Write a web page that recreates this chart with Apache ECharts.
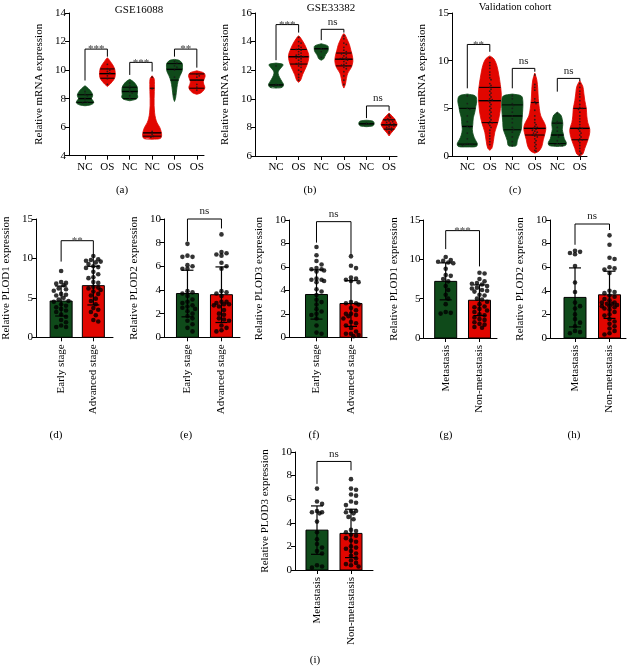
<!DOCTYPE html>
<html><head><meta charset="utf-8">
<script src="https://cdn.jsdelivr.net/npm/echarts@6/dist/echarts.min.js"></script>
<style>html,body{margin:0;padding:0;background:#fff}#c{width:632px;height:667px}</style>
</head><body><div id="c"></div>
<script>
// ================= DATA =================
// Panel (a) GSE16088
const aCategories = ['NC','OS','NC','NC','OS','OS'];
// violin density profiles: [value, relative density (a.u.)]
const aDensity = [
  [[7.5,0],[7.55,5],[7.65,8],[7.75,8.7],[7.9,7.5],[8.0,6.5],[8.15,7.5],[8.3,7.5],[8.5,6],[8.7,3.5],[8.85,1],[8.9,0]],
  [[8.85,0],[9.0,2.5],[9.2,5],[9.4,7],[9.6,7.8],[9.85,7.8],[10.1,7.2],[10.4,5],[10.6,3],[10.8,1],[10.85,0]],
  [[7.85,0],[7.95,6],[8.1,8],[8.3,7.5],[8.5,7.8],[8.8,7.5],[9.0,6],[9.2,3.5],[9.35,0]],
  [[5.15,0],[5.2,8],[5.4,9.5],[5.7,9],[6.0,7.5],[6.3,5],[6.6,3.5],[7.0,2.5],[7.5,2],[8.0,2],[8.5,2.2],[9.0,2.3],[9.4,2],[9.6,0]],
  [[7.8,0],[8.0,1],[8.4,1.8],[8.8,2.5],[9.2,3.5],[9.6,5.5],[9.9,7.5],[10.2,8],[10.5,7.5],[10.7,4],[10.75,0]],
  [[8.3,0],[8.4,4],[8.6,7],[8.8,8],[9.0,7],[9.2,6.5],[9.4,7.5],[9.6,8.3],[9.8,7],[9.95,0]]
];
const aQuartiles = [[7.74,8.0,8.27],[9.43,9.75,10.08],[8.0,8.5,8.8],[5.37,5.6,8.73],[9.3,10.05,10.45],[8.73,9.3,9.73]];
const aPoints = [
  [7.7,7.75,7.8,8.0,8.2,8.3,8.5],
  [9.0,9.4,9.6,9.8,9.9,10.0,10.1,10.4],
  [8.0,8.2,8.4,8.5,8.7,8.9,9.1],
  [5.3,5.35,5.5,5.7,8.7,9.5],
  [8.3,9.5,10.0,10.2,10.3,10.5,10.6],
  [8.6,8.8,9.0,9.3,9.5,9.6,9.7]
];
const aBrackets = [[0,1,11.47,9.27,10.94],[2,3,10.54,9.66,9.9],[4,5,11.47,10.94,10.17]];
const aSignif = ['***','***','**'];

// Panel (b) GSE33382
const bCategories = ['NC','OS','NC','OS','NC','OS'];
const bDensity = [
  [[10.75,0],[10.8,6],[11.0,7.5],[11.2,6],[11.5,3.5],[11.8,2],[12.0,3],[12.2,5.5],[12.4,7],[12.5,0]],
  [[11.15,0],[11.3,2],[11.7,4],[12.0,6],[12.4,8.5],[12.8,10],[13.1,10],[13.4,8.5],[13.8,6],[14.1,3.5],[14.35,1],[14.4,0]],
  [[12.7,0],[12.8,2.5],[12.95,3.5],[13.1,4.5],[13.3,6.5],[13.5,7],[13.7,6.5],[13.85,0]],
  [[10.75,0],[11.0,1.5],[11.4,2.5],[11.8,4],[12.2,7.5],[12.6,9],[13.0,8.5],[13.4,7],[13.8,5.5],[14.2,3],[14.5,1],[14.55,0]],
  [[8.05,0],[8.1,6],[8.2,7.5],[8.35,7.5],[8.45,6],[8.5,0]],
  [[7.4,0],[7.6,2],[7.8,4.5],[8.0,6.5],[8.2,8],[8.4,7],[8.6,5.5],[8.8,3],[9.0,0]]
];
const bQuartiles = [[10.97],[12.43,12.94,13.45],[13.5],[12.3,12.77,13.2],[8.25],[7.88,8.18,8.53]];
const bPoints = [
  [12.3,11.0,10.95,10.9],
  [14.3,14.0,13.9,13.7,13.6,13.5,13.45,13.4,13.3,13.2,13.1,13.05,13.0,12.95,12.9,12.85,12.8,12.7,12.6,12.5,12.45,12.4,12.3,12.2,12.0,11.9,11.7,11.5,11.3],
  [13.5,13.45,13.3,12.9],
  [14.4,14.2,13.9,13.8,13.6,13.4,13.3,13.2,13.15,13.1,13.0,12.9,12.85,12.8,12.75,12.7,12.6,12.5,12.4,12.35,12.3,12.2,12.1,11.9,11.6,11.3,11.0],
  [8.3,8.25,8.2],
  [8.9,8.8,8.7,8.6,8.55,8.5,8.45,8.4,8.35,8.3,8.25,8.2,8.2,8.15,8.1,8.05,8.0,7.95,7.9,7.85,7.8,7.7,7.6]
];
const bBrackets = [[0,1,15.19,12.7,14.63],[2,3,14.86,14.1,14.63],[4,5,9.5,8.65,9.16]];
const bSignif = ['***','ns','ns'];

// Panel (c) Validation cohort
const cCategories = ['NC','OS','NC','OS','NC','OS'];
const cDensity = [
  [[0.95,0],[1.0,9],[1.3,10],[1.7,8],[2.2,6],[2.8,5],[3.3,5.5],[4.0,6],[4.6,7.5],[5.2,8.5],[5.8,9.5],[6.3,8],[6.5,0]],
  [[0.6,0],[0.8,2],[1.5,3.5],[2.5,5],[3.5,8],[4.5,10],[5.5,11],[6.5,11.5],[7.5,10.5],[8.5,9],[9.5,7],[10.2,4],[10.5,0]],
  [[1.0,0],[1.1,4],[1.6,5],[2.2,7],[2.8,9],[3.5,9.5],[4.2,10],[5.0,10.5],[5.8,10.5],[6.3,9],[6.5,0]],
  [[0.3,0],[0.5,4],[1.0,7],[1.7,8.5],[2.5,10.5],[3.0,11],[3.5,9.5],[4.2,6],[5.0,4.5],[6.0,3.5],[7.0,3],[8.0,2],[8.7,0]],
  [[1.0,0],[1.1,8],[1.4,9],[1.8,7],[2.3,6],[2.8,5],[3.3,5.5],[3.8,5],[4.3,3.5],[4.6,0]],
  [[0,0],[0.2,3],[0.8,5],[1.5,7.5],[2.2,9.5],[2.8,10],[3.5,8],[4.2,7],[5.0,6.5],[5.8,5],[6.6,4],[7.3,3],[7.9,0]]
];
const cQuartiles = [[1.25,3.1,5.0],[3.5,5.8,7.2],[2.75,4.2,5.36],[2.2,2.9,5.6],[1.3,2.2,3.45],[1.7,2.9,5.0]];
const cPoints = [
  [6.3,5.5,5.0,4.9,4.2,3.6,3.1,3.0,2.4,1.8,1.3,1.25,1.2,1.2,1.1],
  [10.3,9.8,9.5,9.2,8.8,8.5,8.2,8.0,7.6,7.4,7.2,7.0,6.8,6.6,6.4,6.2,6.0,5.9,5.8,5.6,5.4,5.2,5.0,4.8,4.6,4.4,4.2,4.0,3.8,3.6,3.5,3.4,3.2,3.0,2.7,2.4,2.1,1.8,1.5,1.2],
  [6.3,6.0,5.5,5.3,5.0,4.6,4.2,3.9,3.5,3.0,2.8,2.5,2.0,1.5,1.1],
  [8.5,7.5,7.2,6.9,6.0,5.7,5.5,4.8,4.2,3.8,3.5,3.3,3.1,3.0,2.9,2.8,2.7,2.6,2.5,2.4,2.3,2.2,2.1,2.0,1.8,1.6,1.4,1.2,1.0,0.8,0.6,0.5],
  [4.5,3.6,3.5,3.4,3.0,2.6,2.2,2.0,1.6,1.3,1.25,1.2,1.1],
  [7.6,7.2,6.8,6.5,6.2,5.8,5.4,5.1,5.0,4.9,4.6,4.2,3.9,3.6,3.3,3.0,2.9,2.8,2.6,2.4,2.2,2.0,1.8,1.7,1.6,1.4,1.1,0.8,0.5,0.3,0.1]
];
const cBrackets = [[0,1,11.7,7.1,10.93],[2,3,9.19,7.1,8.84],[4,5,8.14,6.75,7.86]];
const cSignif = ['**','ns','ns'];

// Bar panels
const stageCategories = ['Early stage','Advanced stage'];
const metaCategories = ['Metastasis','Non-metastasis'];

// (d) PLOD1 by stage
const dMeans = [4.6, 6.55];
const dSD = [1.9, 2.45];
const dEarly = [8.4,7.0,6.9,6.8,6.6,6.2,6.1,5.9,5.5,5.4,5.3,5.0,4.8,4.6,4.5,4.2,4.0,3.8,3.6,3.4,3.2,2.9,2.6,2.2,1.9,1.5,1.3,1.3];
const dAdvanced = [10.3,9.9,9.8,9.7,9.6,9.5,9.3,9.0,8.9,8.8,8.3,8.0,7.6,7.5,7.0,6.9,6.4,6.3,6.2,6.0,5.8,5.5,5.3,4.9,4.6,4.2,3.7,3.5,3.2,2.8,2.2,2.0];
const dBracket = [0,1,12.25,9.6,9.05]; const dSignif = '**';

// (e) PLOD2 by stage
const eMeans = [3.7, 3.6];
const eSD = [1.97, 2.35];
const eEarly = [7.9,6.9,6.8,6.8,6.1,6.0,5.8,5.8,3.9,3.8,3.7,3.5,3.2,3.0,2.9,2.7,2.6,2.5,2.4,2.2,2.0,1.8,1.6,1.4,1.1,0.8,0.5];
const eAdvanced = [8.7,7.2,7.1,7.0,6.9,6.3,6.0,5.8,3.9,3.8,3.7,3.5,3.0,3.0,2.9,2.8,2.8,2.7,2.6,2.3,2.0,1.9,1.6,1.5,1.4,1.0,0.8,0.6,0.5];
const eBracket = [0,1,10.0,8.1,9.2]; const eSignif = 'ns';

// (f) PLOD3 by stage
const fMeans = [3.65, 2.88];
const fSD = [2.1, 1.95];
const fEarly = [7.7,7.0,6.5,6.2,5.9,5.8,5.8,5.7,5.6,5.0,4.9,4.9,4.8,4.7,4.1,3.9,3.6,3.2,3.0,2.8,2.4,2.2,2.0,1.9,1.6,1.0,0.4,0.3];
const fAdvanced = [6.9,6.1,5.9,5.1,5.0,4.9,4.8,4.7,3.0,2.9,2.9,2.8,2.5,2.3,2.0,2.0,1.9,1.8,1.6,1.3,1.2,1.0,0.8,0.5,0.3,0.3,0.2,0.1];
const fBracket = [0,1,9.86,8.07,7.0]; const fSignif = 'ns';

// (g) PLOD1 by metastasis
const gMeans = [7.2, 4.8];
const gSD = [2.35, 1.95];
const gMeta = [10.3,9.9,9.8,9.7,9.6,9.5,8.8,8.0,7.9,7.5,7.2,6.6,6.1,5.5,5.0,4.3,3.3,3.2,3.1];
const gNonMeta = [8.3,8.2,7.5,7.2,7.0,6.9,6.8,6.6,6.4,6.3,6.1,6.0,5.9,5.5,5.4,5.0,4.9,4.6,4.3,4.0,3.9,3.7,3.5,3.3,3.0,2.9,2.6,2.4,2.3,2.0,1.8,1.7,1.4,1.3];
const gBracket = [0,1,13.65,11.3,9.1]; const gSignif = '***';

// (h) PLOD2 by metastasis
const hMeans = [3.44, 3.66];
const hSD = [2.5, 2.0];
const hMeta = [7.4,7.3,7.2,7.1,6.1,4.7,3.9,3.0,2.7,2.5,2.0,1.6,1.3,1.0,0.6,0.5,0.4];
const hNonMeta = [8.7,7.9,6.8,6.7,6.0,5.9,5.8,5.5,4.0,3.9,3.8,3.6,3.5,3.3,3.2,3.0,3.0,2.9,2.9,2.8,2.7,2.7,2.6,2.5,2.4,2.2,2.0,1.9,1.6,1.4,1.2,1.0,0.8,0.6,0.4,0.3];
const hBracket = [0,1,9.66,7.9,9.15]; const hSignif = 'ns';

// (i) PLOD3 by metastasis
const iMeans = [3.38, 3.1];
const iSD = [2.05, 2.05];
const iMeta = [6.9,5.8,5.6,5.0,4.9,4.9,4.8,4.1,3.2,2.6,2.2,1.9,1.6,1.4,0.4,0.3,0.2];
const iNonMeta = [7.7,6.9,6.8,6.4,6.3,5.8,5.7,5.5,5.0,5.0,4.9,4.8,4.5,4.3,3.4,3.3,3.2,3.0,2.9,2.7,2.5,2.4,2.0,1.9,1.8,1.6,1.4,1.2,1.0,0.8,0.6,0.5,0.4,0.3];
const iBracket = [0,1,9.2,7.3,8.45]; const iSignif = 'ns';

// ================= STYLE / LAYOUT =================
const FONT = '"Liberation Serif", "DejaVu Serif", serif';
const GREEN = '#0f4a1a';
const RED = '#e10600';
const groupColors = [GREEN, RED, GREEN, RED, GREEN, RED];

const L = {
  a: {left:69, top:13, width:135, height:142.7, xmin:-0.716, xmax:5.32, ymin:4, ymax:14, yint:2, nameGap:24},
  b: {left:255, top:13, width:142, height:143, xmin:-0.93, xmax:5.35, ymin:6, ymax:16, yint:2, nameGap:24},
  c: {left:452, top:13, width:135, height:143, xmin:-0.68, xmax:5.32, ymin:0, ymax:15, yint:5, nameGap:24},
  d: {left:33.3, top:219, width:79.7, height:118.3, xmin:-0.78, xmax:1.61, ymin:0, ymax:15, yint:5, nameGap:24},
  e: {left:164, top:219, width:76, height:118.3, xmin:-0.69, xmax:1.545, ymin:0, ymax:10, yint:2, nameGap:24},
  f: {left:289, top:220, width:78, height:117.3, xmin:-0.797, xmax:1.464, ymin:0, ymax:10, yint:2, nameGap:24},
  g: {left:423.5, top:220, width:73.5, height:118, xmin:-0.657, xmax:1.518, ymin:0, ymax:15, yint:5, nameGap:24},
  h: {left:550, top:220, width:76, height:118, xmin:-0.725, xmax:1.478, ymin:0, ymax:10, yint:2, nameGap:24},
  i: {left:295, top:452, width:78, height:118, xmin:-0.647, xmax:1.647, ymin:0, ymax:10, yint:2, nameGap:24}
};

const grids = [], xAxes = [], yAxes = [], series = [];
const axisTxt = {color:'#000', fontFamily:FONT, fontSize:11};

function addPanel(P, cats, yName, rotate){
  const gi = grids.length;
  const idx = cats.map((_, i) => i);
  grids.push({left:P.left, top:P.top, width:P.width, height:P.height, containLabel:false});
  xAxes.push({
    type:'value', gridIndex:gi, min:P.xmin, max:P.xmax,
    axisLine:{show:true, onZero:false, lineStyle:{color:'#000', width:1}},
    axisTick:{show:true, customValues:idx, length:4, lineStyle:{color:'#000', width:1}},
    axisLabel:Object.assign({show:true, customValues:idx, formatter:v => cats[Math.round(v)] || '',
      rotate: rotate ? 90 : 0, margin: rotate ? 7 : 6, hideOverlap:false}, axisTxt),
    splitLine:{show:false}
  });
  yAxes.push({
    type:'value', gridIndex:gi, min:P.ymin, max:P.ymax, interval:P.yint,
    name:yName, nameLocation:'middle', nameGap:P.nameGap,
    nameTextStyle:{color:'#000', fontFamily:FONT, fontSize:11},
    axisLine:{show:true, onZero:false, lineStyle:{color:'#000', width:1}},
    axisTick:{show:true, length:4, lineStyle:{color:'#000', width:1}},
    axisLabel:Object.assign({margin:3}, axisTxt),
    splitLine:{show:false}
  });
  return gi;
}

// simple beeswarm layout (pixel offsets) for point clouds
function swarm(values, pxPerUnit, diam, limitFn){
  const order = values.map((v,i)=>i).sort((p,q)=>values[q]-values[p]);
  const placed = []; const off = new Array(values.length).fill(0);
  const step = diam * 0.55;
  order.forEach(i => {
    const y = values[i] * pxPerUnit;
    const lim = Math.max(0, limitFn(values[i]));
    let best = 0, bestScore = -1;
    for (let k = 0; k < 40; k++) {
      const cand = k === 0 ? 0 : (k % 2 ? 1 : -1) * Math.ceil(k/2) * step;
      if (Math.abs(cand) > lim + 0.01) continue;
      let minD = Infinity;
      placed.forEach(p => { const d = Math.hypot(p.x - cand, p.y - y); if (d < minD) minD = d; });
      if (minD >= diam) { best = cand; bestScore = Infinity; break; }
      if (minD > bestScore) { bestScore = minD; best = cand; }
    }
    placed.push({x:best, y:y}); off[i] = best;
  });
  return off;
}

function interpDensity(prof, v){
  if (v <= prof[0][0] || v >= prof[prof.length-1][0]) return 0;
  for (let k = 1; k < prof.length; k++) {
    if (v <= prof[k][0]) {
      const t = (v - prof[k-1][0]) / (prof[k][0] - prof[k-1][0]);
      return prof[k-1][1] + t * (prof[k][1] - prof[k-1][1]);
    }
  }
  return 0;
}

function addBrackets(gi, brackets, labels){
  series.push({
    type:'custom', xAxisIndex:gi, yAxisIndex:gi, silent:true, z:10,
    data: brackets.map((b, k) => ({value:b})),
    renderItem: (params, api) => {
      const b = brackets[params.dataIndex];
      const pL = api.coord([b[0], b[3]]), pT1 = api.coord([b[0], b[2]]);
      const pT2 = api.coord([b[1], b[2]]), pR = api.coord([b[1], b[4]]);
      const lab = labels[params.dataIndex];
      const star = lab.indexOf('*') >= 0;
      return {type:'group', children:[
        {type:'polyline', shape:{points:[pL, pT1, pT2, pR]}, style:{stroke:'#000', lineWidth:1, fill:null}},
        {type:'text', x:(pT1[0]+pT2[0])/2, y:pT1[1] + (star ? 6 : -2),
         style:{text:lab, fill: star ? '#444' : '#222', font:'11px ' + FONT, textAlign:'center', textVerticalAlign:'bottom'}}
      ]};
    }
  });
}

function addViolinPanel(key, cats, title, density, quartiles, points, brackets, signif){
  const P = L[key];
  const gi = addPanel(P, cats, 'Relative mRNA expression', false);
  const pxPerUnitY = P.height / (P.ymax - P.ymin);
  const pxPerUnitX = P.width / (P.xmax - P.xmin);
  const VSCALE = 1.0; // px per density unit
  series.push({
    type:'custom', xAxisIndex:gi, yAxisIndex:gi, silent:true, z:2,
    data: density.map((_, i) => [i]),
    renderItem: (params, api) => {
      const i = params.dataIndex; const prof = density[i];
      const cx = api.coord([i, P.ymin])[0];
      const right = prof.map(p => [cx + p[1]*VSCALE, api.coord([i, p[0]])[1]]);
      const left = prof.slice().reverse().map(p => [cx - p[1]*VSCALE, api.coord([i, p[0]])[1]]);
      const children = [{type:'polygon', shape:{points:right.concat(left), smooth:0.35},
        style:{fill:groupColors[i], stroke:groupColors[i], lineWidth:0.8}}];
      const qs = quartiles[i];
      qs.forEach((q, k) => {
        const hw = interpDensity(prof, q) * VSCALE;
        const y = api.coord([i, q])[1];
        const isMed = qs.length === 1 || k === 1;
        children.push({type:'line', shape:{x1:cx-hw, y1:y, x2:cx+hw, y2:y},
          style:{stroke:'#000', lineWidth: isMed ? 1.4 : 1.0}});
      });
      return {type:'group', children};
    }
  });
  // points inside violins
  const pts = [];
  points.forEach((vals, i) => {
    const off = swarm(vals, pxPerUnitY, 2.2, v => interpDensity(density[i], v)*VSCALE - 2);
    vals.forEach((v, k) => pts.push([i + off[k]/pxPerUnitX, v]));
  });
  series.push({type:'scatter', xAxisIndex:gi, yAxisIndex:gi, silent:true, z:3, symbolSize:1.8,
    itemStyle:{color:'#1a1a1a', opacity:0.85}, data:pts});
  addBrackets(gi, brackets, signif);
  return gi;
}

function addBarPanel(key, cats, yName, means, sds, groupA, groupB, bracket, signif){
  const P = L[key];
  const gi = addPanel(P, cats, yName, true);
  const pxPerUnitY = P.height / (P.ymax - P.ymin);
  const pxPerUnitX = P.width / (P.xmax - P.xmin);
  const BW = 22;
  series.push({
    type:'custom', xAxisIndex:gi, yAxisIndex:gi, silent:true, z:2,
    data: means.map((m, i) => [i, m]),
    renderItem: (params, api) => {
      const i = params.dataIndex;
      const top = api.coord([i, means[i]]); const base = api.coord([i, P.ymin]);
      return {type:'rect', shape:{x:top[0]-BW/2, y:top[1], width:BW, height:base[1]-top[1]},
        style:{fill:groupColors[i], stroke:'#000', lineWidth:1}};
    }
  });
  const pts = [];
  [groupA, groupB].forEach((vals, i) => {
    const off = swarm(vals, pxPerUnitY, 4.6, () => 8.5);
    vals.forEach((v, k) => pts.push([i + off[k]/pxPerUnitX, v]));
  });
  series.push({type:'scatter', xAxisIndex:gi, yAxisIndex:gi, silent:true, z:3, symbolSize:4.6,
    itemStyle:{color:'#000'}, data:pts});
  series.push({
    type:'custom', xAxisIndex:gi, yAxisIndex:gi, silent:true, z:4,
    data: means.map((m, i) => [i, m, sds[i]]),
    renderItem: (params, api) => {
      const i = params.dataIndex;
      const hi = api.coord([i, means[i] + sds[i]]); const lo = api.coord([i, means[i] - sds[i]]);
      const cw = 6;
      return {type:'group', children:[
        {type:'line', shape:{x1:hi[0], y1:hi[1], x2:lo[0], y2:lo[1]}, style:{stroke:'#000', lineWidth:1.2}},
        {type:'line', shape:{x1:hi[0]-cw, y1:hi[1], x2:hi[0]+cw, y2:hi[1]}, style:{stroke:'#000', lineWidth:1.2}},
        {type:'line', shape:{x1:lo[0]-cw, y1:lo[1], x2:lo[0]+cw, y2:lo[1]}, style:{stroke:'#000', lineWidth:1.2}}
      ]};
    }
  });
  addBrackets(gi, [bracket], [signif]);
  return gi;
}

addViolinPanel('a', aCategories, 'GSE16088', aDensity, aQuartiles, aPoints, aBrackets, aSignif);
addViolinPanel('b', bCategories, 'GSE33382', bDensity, bQuartiles, bPoints, bBrackets, bSignif);
addViolinPanel('c', cCategories, 'Validation cohort', cDensity, cQuartiles, cPoints, cBrackets, cSignif);
addBarPanel('d', stageCategories, 'Relative PLOD1 expression', dMeans, dSD, dEarly, dAdvanced, dBracket, dSignif);
addBarPanel('e', stageCategories, 'Relative PLOD2 expression', eMeans, eSD, eEarly, eAdvanced, eBracket, eSignif);
addBarPanel('f', stageCategories, 'Relative PLOD3 expression', fMeans, fSD, fEarly, fAdvanced, fBracket, fSignif);
addBarPanel('g', metaCategories, 'Relative PLOD1 expression', gMeans, gSD, gMeta, gNonMeta, gBracket, gSignif);
addBarPanel('h', metaCategories, 'Relative PLOD2 expression', hMeans, hSD, hMeta, hNonMeta, hBracket, hSignif);
addBarPanel('i', metaCategories, 'Relative PLOD3 expression', iMeans, iSD, iMeta, iNonMeta, iBracket, iSignif);

const panelTitles = ['GSE16088', 'GSE33382', 'Validation cohort'];
const panelLetters = ['(a)','(b)','(c)','(d)','(e)','(f)','(g)','(h)','(i)'];
const titlePos = [[139,10,11],[331,8,11],[515,7,10.5]];
const letterPos = [[122,190],[310,190],[515,190],[56,435],[186,435],[314,435],[446,435],[574,435],[315,660]];

const graphics = [];
panelTitles.forEach((t, k) => graphics.push({type:'text', x:titlePos[k][0], y:titlePos[k][1],
  style:{text:t, font:titlePos[k][2] + 'px ' + FONT, fill:'#000', textAlign:'center', textVerticalAlign:'middle'}}));
panelLetters.forEach((t, k) => graphics.push({type:'text', x:letterPos[k][0], y:letterPos[k][1],
  style:{text:t, font:'11px ' + FONT, fill:'#000', textAlign:'center', textVerticalAlign:'middle'}}));

const chart = echarts.init(document.getElementById('c'), null, {renderer:'canvas'});
chart.setOption({
  animation:false,
  backgroundColor:'#fff',
  grid:grids, xAxis:xAxes, yAxis:yAxes, series:series, graphic:graphics
});
</script>
</body></html>
